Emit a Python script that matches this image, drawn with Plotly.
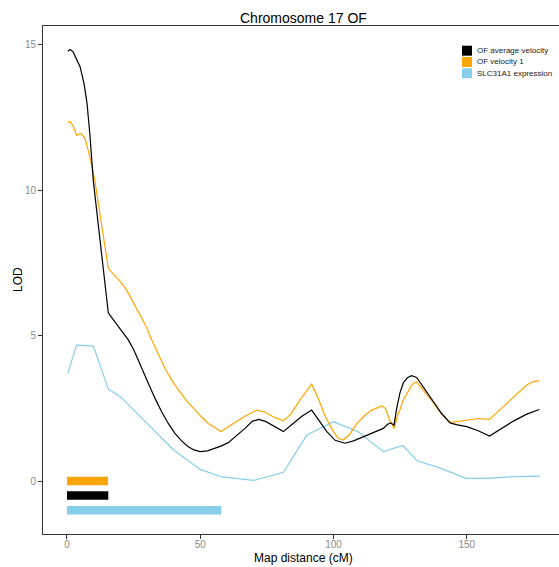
import plotly.graph_objects as go

# --- LOD profiles along chromosome 17 (cM, LOD) ---
avg_cm = [0.3, 1.2, 2.3, 3.5, 4.9, 6.4, 7.5, 8.6, 9.9, 12.5, 15.5, 16.8, 18, 20.5, 23, 25,
          26.8, 28.7, 30.5, 33, 35.5, 38, 40.5, 43, 45.5, 47.7, 49.9, 52.7, 55.5, 58, 60.5,
          63.5, 66.8, 69.5, 71.8, 74.5, 78, 81.2, 84.5, 88, 91.8, 94.5, 97.5, 100.6, 104.3,
          107.5, 111, 115, 118.7, 120.3, 121.5, 122.7, 123.7, 124.9, 126.2, 127.7, 129.3,
          131.2, 134, 137.5, 140.5, 143.7, 146.5, 150, 154.3, 158.5, 163, 167.5, 172.5, 177.2]
avg_lod = [14.77, 14.83, 14.75, 14.52, 14.24, 13.66, 13.0, 11.9, 10.3, 8.2, 5.78, 5.62, 5.47,
           5.2, 4.85, 4.52, 4.16, 3.78, 3.36, 2.85, 2.38, 1.98, 1.64, 1.38, 1.18, 1.07, 1.01,
           1.04, 1.12, 1.21, 1.32, 1.55, 1.81, 2.05, 2.12, 2.05, 1.88, 1.70, 1.95, 2.22, 2.44,
           2.1, 1.7, 1.40, 1.30, 1.38, 1.52, 1.68, 1.81, 1.95, 2.0, 1.92, 2.5, 3.02, 3.38,
           3.55, 3.62, 3.56, 3.2, 2.73, 2.33, 2.00, 1.93, 1.87, 1.73, 1.55, 1.82, 2.06, 2.3,
           2.46]

vel1_cm = [0.3, 1.2, 2.3, 3.6, 5.25, 6.75, 8.6, 10.5, 13, 15.5, 18, 20.5, 22.4, 24.9, 27,
           29.5, 31.8, 34.3, 36.8, 39.3, 41.8, 45, 48, 50.5, 53, 55.5, 57.8, 62, 66.8, 71.2,
           74, 77.5, 81.2, 84, 87.5, 91.8, 94, 97, 100, 101.8, 103.7, 106, 108.5, 111.2, 114,
           118.1, 119.5, 121, 122.8, 123.8, 124.9, 126, 128, 129.5, 131.2, 133.5, 137.5,
           140.5, 143.7, 147, 150, 154.3, 158.5, 162.5, 167.5, 172.5, 175, 177.2]
vel1_lod = [12.35, 12.35, 12.2, 11.89, 11.95, 11.78, 11.14, 10.3, 8.8, 7.31, 7.05, 6.8, 6.56,
            6.15, 5.8, 5.35, 4.85, 4.35, 3.87, 3.47, 3.13, 2.75, 2.44, 2.2, 1.98, 1.82, 1.70,
            1.95, 2.23, 2.44, 2.38, 2.2, 2.07, 2.3, 2.8, 3.33, 2.9, 2.2, 1.7, 1.47, 1.41, 1.6,
            1.95, 2.21, 2.42, 2.58, 2.5, 2.1, 1.81, 2.2, 2.44, 2.75, 3.1, 3.32, 3.41, 3.15,
            2.69, 2.3, 2.02, 2.05, 2.10, 2.15, 2.12, 2.46, 2.90, 3.30, 3.42, 3.45]

expr_cm = [0.3, 3.6, 9.9, 15.5, 20, 40, 50, 58, 70, 81.2, 90, 100, 109.3, 118.7, 126, 131.5,
           139.3, 149.7, 157.5, 167.5, 177.5]
expr_lod = [3.70, 4.67, 4.64, 3.16, 2.90, 1.07, 0.40, 0.14, 0.02, 0.30, 1.58, 2.04, 1.69, 1.01,
            1.22, 0.69, 0.47, 0.09, 0.09, 0.15, 0.17]

# --- support intervals drawn beneath the profiles ---
series_names = ["OF average velocity", "OF velocity 1", "SLC31A1 expression"]
series_colors = ["black", "orange", "skyblue"]
ci_start = [0.0, 0.0, 0.0]
ci_end = [15.5, 15.4, 57.9]
ci_level = [-0.5, 0.0, -1.0]

x_ticks = [0, 50, 100, 150]
y_ticks = [0, 5, 10, 15]

FONT = "Liberation Sans, Arial, Helvetica, sans-serif"
W, H = 559, 567
L, R, T, B = 43, 0, 26, 33


def px_x(px):
    return (px - L) / (W - L - R)


def px_y(py):
    return (H - B - py) / (H - T - B)


fig = go.Figure()

profiles = [(avg_cm, avg_lod), (vel1_cm, vel1_lod), (expr_cm, expr_lod)]
draw_order = [2, 1, 0]
for i in draw_order:
    xs, ys = profiles[i]
    fig.add_trace(go.Scatter(x=xs, y=ys, mode="lines", name=series_names[i],
                             line=dict(color=series_colors[i], width=1.2),
                             showlegend=False, hoverinfo="skip"))

for i in range(3):
    fig.add_trace(go.Scatter(x=[ci_start[i], ci_end[i]], y=[ci_level[i], ci_level[i]],
                             mode="lines", line=dict(color=series_colors[i], width=8.5),
                             showlegend=False, hoverinfo="skip"))

# compact legend: filled swatches with labels
shapes = []
annotations = []
for k, (name, col) in enumerate(zip(series_names, series_colors)):
    cy = 50.7 + 11.3 * k
    shapes.append(dict(type="rect", xref="paper", yref="paper",
                       x0=px_x(462), x1=px_x(472), y0=px_y(cy + 5), y1=px_y(cy - 5),
                       fillcolor=col, line=dict(width=0)))
    annotations.append(dict(text=name, xref="paper", yref="paper", x=px_x(475), y=px_y(cy),
                            xanchor="left", yanchor="middle", showarrow=False,
                            font=dict(family=FONT, size=8, color="#222")))

annotations.append(dict(text="Chromosome 17 OF", xref="paper", yref="paper",
                        x=px_x(303.5), y=px_y(18), xanchor="center", yanchor="middle",
                        showarrow=False, font=dict(family=FONT, size=14, color="black")))
annotations.append(dict(text="Map distance (cM)", xref="paper", yref="paper",
                        x=px_x(303), y=px_y(557.5), xanchor="center", yanchor="middle",
                        showarrow=False, font=dict(family=FONT, size=12, color="black")))
annotations.append(dict(text="LOD", xref="paper", yref="paper", textangle=-90,
                        x=px_x(18), y=px_y(280), xanchor="center", yanchor="middle",
                        showarrow=False, font=dict(family=FONT, size=12, color="black")))

fig.update_layout(
    width=W, height=H,
    margin=dict(l=L, r=R, t=T, b=B, pad=0),
    paper_bgcolor="white", plot_bgcolor="white",
    shapes=shapes, annotations=annotations,
    showlegend=False,
    xaxis=dict(range=[-9.0, 184.6], tickvals=x_ticks, ticks="outside", ticklen=4,
               tickcolor="#333", showline=True, linecolor="#333", linewidth=1,
               mirror=True, showgrid=False, zeroline=False, ticklabelstandoff=-3,
               tickfont=dict(family=FONT, size=10, color="#8a8a8a")),
    yaxis=dict(range=[-1.82, 15.64], tickvals=y_ticks, ticks="outside", ticklen=4,
               tickcolor="#333", showline=True, linecolor="#333", linewidth=1,
               showgrid=False, zeroline=False,
               tickfont=dict(family=FONT, size=10, color="#8a8a8a")),
)

fig.write_html("out.html")
